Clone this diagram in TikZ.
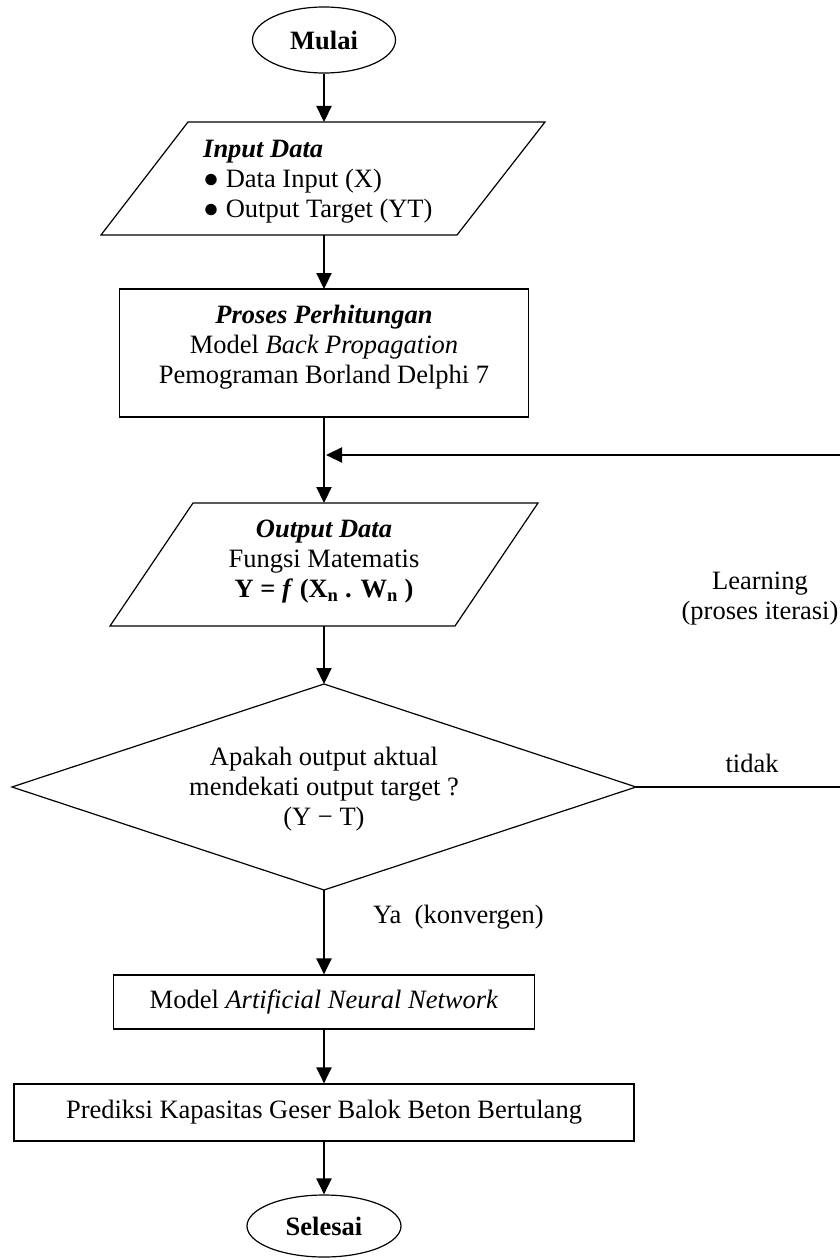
\documentclass[tikz,border=0pt]{standalone}
\usepackage{fontspec}
\setmainfont{Liberation Serif}
\usetikzlibrary{shapes.geometric,arrows.meta}
\begin{document}
\begin{tikzpicture}[x=1pt,y=-1pt,
  txt/.style={font=\fontsize{26.5}{30}\selectfont, inner sep=0pt, align=center},
  shp/.style={draw, line width=1.2pt},
  conn/.style={line width=2.2pt, -{Triangle[width=15pt,length=16pt]}},
  plain/.style={inner sep=0pt, outer sep=0pt}]
\useasboundingbox (0,0) rectangle (840,1260);

% start
\node[shp, ellipse, txt, minimum width=143pt, minimum height=66pt] (start) at (324,40) {\textbf{Mulai}};

% input data (parallelogram)
\node[plain, minimum width=444pt, minimum height=113pt] (in) at (324,178.5) {};
\draw[shp] (188,122) -- (545,122) -- (457,235) -- (101,235) -- cycle;
\node[txt, align=left, anchor=west] (intxt) at (203,182) {\textbf{\textit{Input Data}}\\● Data Input (X)\\● Output Target (YT)};

% process
\node[shp, plain, minimum width=409pt, minimum height=128pt] (proc) at (324,353) {};
\node[txt] (proctxt) at (324,347) {\textbf{\textit{Proses Perhitungan}}\\Model \textit{Back Propagation}\\Pemograman Borland Delphi 7};

% output data (parallelogram)
\node[plain, minimum width=428pt, minimum height=123pt] (out) at (324,564.5) {};
\draw[shp] (193,503) -- (538,503) -- (455,626) -- (110,626) -- cycle;
\node[txt] (outtxt) at (324,562) {\textbf{\textit{Output Data}}\\Fungsi Matematis\\\textbf{Y = \textit{f} (X\textsubscript{n} . W\textsubscript{n} )}};

% decision
\node[shp, diamond, plain, minimum width=624pt, minimum height=206pt] (dec) at (324,787) {};
\node[txt] (dectxt) at (324,789) {Apakah output aktual\\mendekati output target ?\\(Y − T)};

% ANN model
\node[shp, txt, minimum width=421pt, minimum height=54pt] (ann) at (324,1002) {Model \textit{Artificial Neural Network}};

% prediction
\node[shp, txt, minimum width=620pt, minimum height=57pt] (pred) at (324,1112.5) {Prediksi Kapasitas Geser Balok Beton Bertulang};

% end
\node[shp, ellipse, txt, minimum width=154pt, minimum height=62pt] (end) at (324,1226) {\textbf{Selesai}};

% labels
\node[txt] (tidak) at (752,763) {tidak};
\node[txt] (learn) at (760,599) {Learning\\(proses iterasi)};
\node[txt, anchor=west] (ya) at (373,917) {Ya\ \ (konvergen)};

% connectors
\coordinate (j) at (326,455);
\coordinate (c1) at (846,787);
\coordinate (c2) at (846,455);
\draw[conn] (start.south) -- (in.north);
\draw[conn] (in.south) -- (proc.north);
\draw[conn] (proc.south) -- (out.north);
\draw[conn] (out.south) -- (dec.north);
\draw[conn] (dec.east) -- (c1) -- (c2) -- (j);
\draw[conn] (dec.south) -- (ann.north);
\draw[conn] (ann.south) -- (pred.north);
\draw[conn] (pred.south) -- (end.north);
\end{tikzpicture}
\end{document}
